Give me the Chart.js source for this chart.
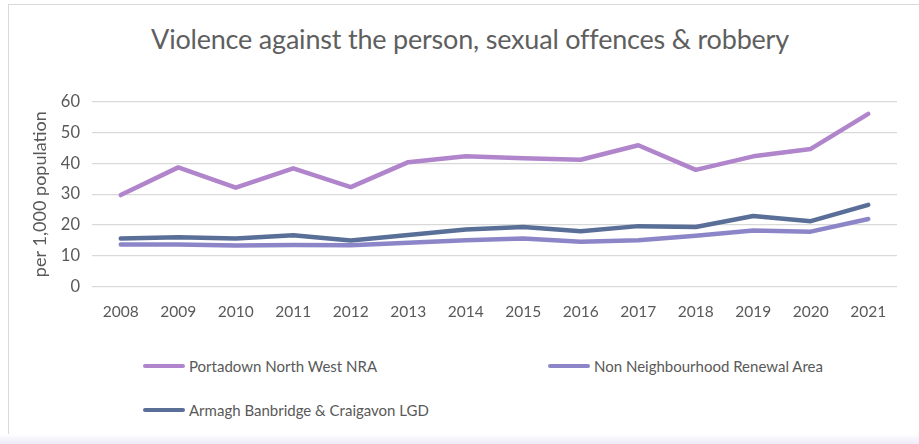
<!DOCTYPE html>
<html>
<head>
<meta charset="utf-8">
<script src="https://cdn.jsdelivr.net/npm/chart.js@4.4.0/dist/chart.umd.min.js"></script>
<style>
  html, body { margin: 0; padding: 0; background: #fff; }
  body { width: 919px; height: 444px; position: relative; overflow: hidden; font-family: Lato, "Open Sans", sans-serif; }
  #frame { position: absolute; left: 8px; top: 4px; width: 920px; height: 460px; border: 1px solid #d9d9d9; border-right: none; box-sizing: border-box; }
  #shade { position: absolute; left: 0; right: 0; top: 434px; height: 10px; background: linear-gradient(#ffffff, #efeaf8); }
  #title { position: absolute; left: 0; width: 940px; top: 22px; text-align: center; font-size: 27px; color: #5f5f5f; letter-spacing: -0.2px; }
  #wrap { position: absolute; left: 10px; top: 80px; width: 900px; height: 249px; }
  #legend { position: absolute; left: 143px; top: 355px; display: grid; grid-template-columns: 405px 300px; row-gap: 22px; font-size: 15px; color: #595959; }
  .item { display: flex; align-items: center; height: 22px; }
  .swatch { width: 42px; height: 4px; border-radius: 2px; margin-right: 4px; }
</style>
</head>
<body>
<div id="frame"></div>
<div id="shade"></div>
<div id="title">Violence against the person, sexual offences &amp; robbery</div>
<div id="wrap"><canvas id="stage"></canvas></div>
<div id="legend"></div>
<script>
  // 年
  const years = ['2008', '2009', '2010', '2011', '2012', '2013', '2014', '2015', '2016', '2017', '2018', '2019', '2020', '2021'];

  // 人口1,000人あたり件数
  const portadown = [29.7, 38.7, 32.1, 38.4, 32.3, 40.4, 42.3, 41.7, 41.2, 45.9, 37.9, 42.3, 44.7, 56.1];
  const nonNra = [13.6, 13.6, 13.3, 13.5, 13.4, 14.2, 15.0, 15.6, 14.5, 15.0, 16.5, 18.2, 17.8, 21.9];
  const lgd = [15.6, 16.0, 15.6, 16.6, 14.9, 16.7, 18.5, 19.3, 17.9, 19.6, 19.3, 22.9, 21.2, 26.5];

  const yTicks = [0, 10, 20, 30, 40, 50, 60];

  const mydata = {
    labels: years,
    datasets: [
      { label: 'Portadown North West NRA', data: portadown, borderColor: '#b085cb' },
      { label: 'Non Neighbourhood Renewal Area', data: nonNra, borderColor: '#8c86c8' },
      { label: 'Armagh Banbridge & Craigavon LGD', data: lgd, borderColor: '#5a6f98' }
    ]
  };
  mydata.datasets.forEach(d => {
    d.borderWidth = 4.5;
    d.radius = 0;
    d.tension = 0;
    d.borderCapStyle = 'round';
    d.borderJoinStyle = 'round';
  });

  const chart = new Chart(document.getElementById('stage'), {
    type: 'line',
    data: mydata,
    options: {
      responsive: true,
      maintainAspectRatio: false,
      animation: false,
      layout: { padding: { left: 0, right: 13, top: 21, bottom: 0 } },
      plugins: { legend: { display: false }, tooltip: { enabled: false } },
      scales: {
        x: {
          offset: true,
          grid: { display: false },
          border: { display: false },
          ticks: { color: '#595959', font: { family: 'Lato', size: 15.5 }, maxRotation: 0, padding: 8 }
        },
        y: {
          min: 0,
          max: 60,
          afterBuildTicks: axis => { axis.ticks = yTicks.map(v => ({ value: v })); },
          afterFit: axis => { axis.width = 82; },
          grid: { color: '#d9d9d9', lineWidth: 1.3, drawTicks: false },
          border: { display: false },
          ticks: { color: '#595959', font: { family: 'Lato', size: 16.5 }, padding: 12 },
          title: { display: true, text: 'per 1,000 population', color: '#595959', font: { family: 'Lato', size: 18 }, padding: { top: 19, bottom: 0 } }
        }
      }
    }
  });

  // 凡例
  const legend = document.getElementById('legend');
  chart.data.datasets.forEach(ds => {
    const item = document.createElement('div');
    item.className = 'item';
    item.innerHTML = '<span class="swatch" style="background:' + ds.borderColor + '"></span>' + ds.label.replace('&', '&amp;');
    legend.appendChild(item);
  });
</script>
</body>
</html>
